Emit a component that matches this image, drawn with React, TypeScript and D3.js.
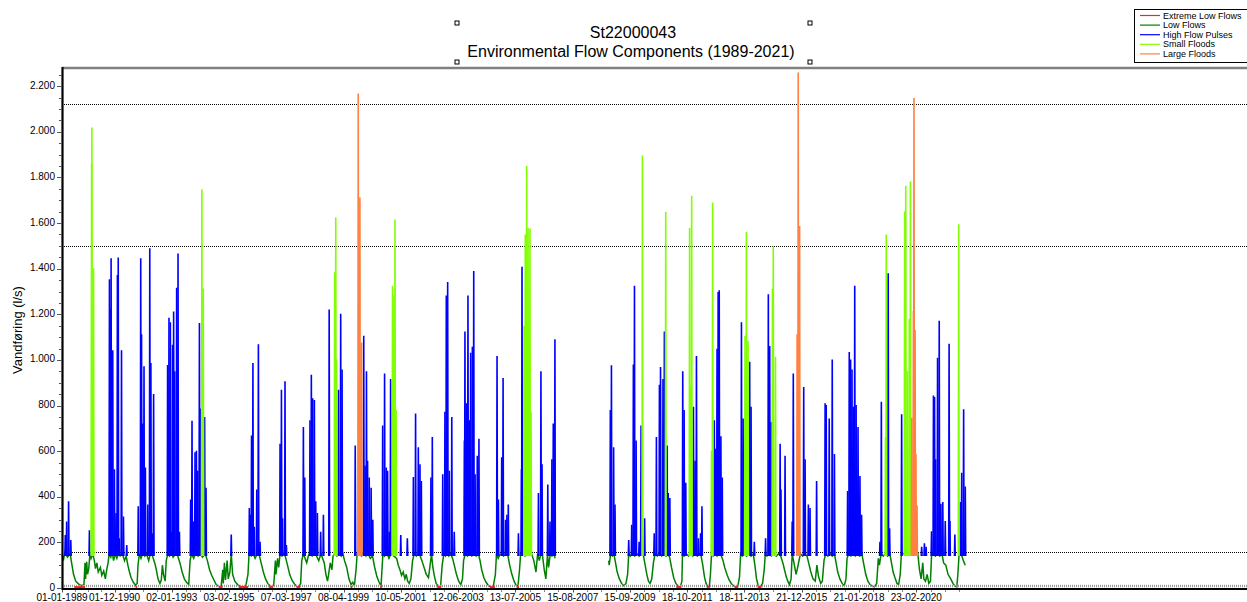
import { useEffect, useRef } from 'react'
import * as d3 from 'd3'

const W = 1247, H = 602
const M = { top: 68, right: 0, bottom: 14, left: 62 }
const FONT = '"Liberation Sans", Arial, Helvetica, sans-serif'

const title = 'St22000043'
const subtitle = 'Environmental Flow Components (1989-2021)'
const yLabel = 'Vandføring (l/s)'

const xTickLabels = [
  '01-01-1989', '01-12-1990', '02-01-1993', '03-02-1995', '07-03-1997', '08-04-1999',
  '10-05-2001', '12-06-2003', '13-07-2005', '15-08-2007', '15-09-2009', '18-10-2011',
  '18-11-2013', '21-12-2015', '21-01-2018', '23-02-2020',
]
const yTicks = [0, 200, 400, 600, 800, 1000, 1200, 1400, 1600, 1800, 2000, 2200]
const thresholds = [160, 1500, 2120] // l/s, dotted lines
const extremeLowLine = 10

const legendNames = ['Extreme Low Flows', 'Low Flows', 'High Flow Pulses', 'Small Floods', 'Large Floods']
const legendColors = ['#ff2020', '#008000', '#0000ff', '#80ff00', '#ff8040']

// [decimal year, l/s]  (null = no data)
const lowFlows: ([number, number] | null)[] = [
  [1989.00, 150], [1989.05, 120], [1989.10, 155], [1989.20, 135], [1989.30, 150], [1989.35, 110], [1989.42, 60],
  [1989.50, 30], [1989.60, 18], [1989.70, 10], [1989.80, 15], [1989.84, 110], [1989.86, 40], [1989.90, 115],
  [1989.93, 60], [1989.97, 80], [1990.02, 150], [1990.06, 130], [1990.12, 150], [1990.18, 120], [1990.22, 85],
  [1990.27, 110], [1990.32, 70], [1990.40, 90], [1990.45, 55], [1990.52, 75], [1990.58, 40], [1990.63, 80],
  [1990.68, 110], [1990.72, 150],
  [1990.78, 135], [1990.83, 155], [1990.88, 120], [1990.94, 150], [1991.00, 130], [1991.06, 155], [1991.12, 140],
  [1991.20, 150], [1991.28, 120], [1991.34, 140], [1991.40, 100], [1991.46, 70], [1991.52, 45], [1991.60, 25],
  [1991.68, 12], [1991.74, 20], [1991.77, 100],
  [1991.82, 150], [1991.88, 130], [1991.95, 155], [1992.02, 140], [1992.08, 150], [1992.16, 120], [1992.22, 150],
  [1992.30, 140], [1992.38, 110], [1992.44, 80], [1992.50, 40], [1992.57, 20], [1992.62, 35], [1992.66, 100],
  [1992.70, 60], [1992.76, 30], [1992.80, 120],
  [1992.86, 150], [1992.92, 140], [1992.98, 155], [1993.05, 135], [1993.14, 150], [1993.22, 140], [1993.30, 110],
  [1993.38, 70], [1993.46, 40], [1993.54, 25], [1993.62, 15], [1993.67, 120],
  [1993.72, 150], [1993.80, 130], [1993.88, 155], [1993.96, 140], [1994.05, 150], [1994.12, 135], [1994.22, 150],
  [1994.30, 120], [1994.38, 80], [1994.46, 55], [1994.54, 35], [1994.62, 15], [1994.70, 8], [1994.80, 5],
  [1994.86, 80], [1994.88, 20], [1994.92, 110], [1994.96, 35], [1995.02, 120], [1995.06, 40], [1995.12, 70],
  [1995.17, 150], [1995.22, 60], [1995.30, 30], [1995.40, 15], [1995.50, 8], [1995.60, 5], [1995.70, 8], [1995.78, 60],
  [1995.82, 150], [1995.90, 140], [1995.96, 155], [1996.04, 130], [1996.12, 150], [1996.20, 140], [1996.26, 110],
  [1996.34, 70], [1996.42, 40], [1996.50, 20], [1996.58, 10], [1996.66, 5], [1996.72, 15], [1996.78, 120],
  [1996.80, 60], [1996.86, 130], [1996.90, 90],
  [1996.95, 150], [1997.02, 140], [1997.10, 155], [1997.16, 130], [1997.22, 100], [1997.30, 60], [1997.38, 35],
  [1997.46, 20], [1997.55, 8], [1997.64, 5], [1997.70, 20], [1997.74, 120],
  [1997.80, 150], [1997.86, 130], [1997.92, 110], [1997.98, 140], [1998.04, 155], [1998.12, 140], [1998.20, 150],
  [1998.28, 140], [1998.36, 120], [1998.44, 150], [1998.50, 130], [1998.56, 110], [1998.62, 60], [1998.68, 30],
  [1998.72, 60], [1998.78, 110], [1998.84, 80], [1998.88, 140],
  [1998.94, 150], [1999.02, 140], [1999.10, 155], [1999.18, 140], [1999.24, 150], [1999.30, 120], [1999.38, 90],
  [1999.46, 40], [1999.54, 15], [1999.60, 25], [1999.66, 10], [1999.72, 80], [1999.76, 150],
  [1999.85, 150], [1999.92, 140], [2000.00, 155], [2000.08, 140], [2000.16, 150], [2000.24, 130], [2000.32, 140],
  [2000.40, 90], [2000.48, 50], [2000.56, 25], [2000.63, 8], [2000.66, 70], [2000.70, 150],
  [2000.76, 140], [2000.84, 155], [2000.92, 130], [2001.00, 150], [2001.10, 140], [2001.20, 130], [2001.26, 100],
  [2001.32, 80], [2001.38, 55], [2001.44, 70], [2001.50, 40], [2001.55, 60], [2001.60, 30], [2001.66, 20],
  [2001.72, 40], [2001.78, 120],
  [2001.84, 150], [2001.92, 140], [2002.00, 155], [2002.06, 140], [2002.12, 120], [2002.20, 90], [2002.28, 60],
  [2002.36, 45], [2002.42, 100], [2002.47, 150], [2002.52, 90], [2002.58, 50], [2002.64, 20], [2002.72, 8],
  [2002.80, 5], [2002.86, 100],
  [2002.92, 150], [2002.98, 140], [2003.04, 155], [2003.10, 140], [2003.16, 150], [2003.24, 130], [2003.30, 100],
  [2003.38, 60], [2003.46, 30], [2003.54, 15], [2003.60, 40], [2003.64, 120],
  [2003.70, 150], [2003.78, 140], [2003.86, 155], [2003.94, 140], [2004.02, 150], [2004.10, 140], [2004.18, 150],
  [2004.24, 120], [2004.30, 80], [2004.38, 45], [2004.46, 25], [2004.54, 12], [2004.62, 5], [2004.72, 5], [2004.80, 60],
  [2004.84, 150], [2004.90, 130], [2004.96, 145], [2005.04, 150], [2005.10, 140], [2005.18, 150], [2005.26, 140],
  [2005.32, 100], [2005.40, 60], [2005.48, 30], [2005.56, 12], [2005.62, 5], [2005.68, 80], [2005.72, 150],
  [2005.80, 150], [2005.88, 140], [2005.96, 155], [2006.04, 145], [2006.12, 150], [2006.20, 120], [2006.28, 70],
  [2006.34, 150], [2006.40, 120], [2006.46, 150], [2006.52, 140], [2006.58, 80], [2006.64, 40], [2006.70, 150],
  [2006.74, 90], [2006.80, 150], [2006.86, 140], [2006.92, 150], [2006.98, 130],
  null,
  [2008.93, 120], [2008.95, 100], [2009.00, 150], [2009.06, 140], [2009.12, 150], [2009.18, 110], [2009.24, 70],
  [2009.32, 40], [2009.40, 20], [2009.48, 10], [2009.56, 20], [2009.62, 60], [2009.66, 150],
  [2009.72, 140], [2009.80, 155], [2009.88, 140], [2009.96, 150], [2010.04, 140], [2010.12, 150], [2010.20, 140],
  [2010.26, 100], [2010.32, 60], [2010.38, 30], [2010.44, 20], [2010.50, 40], [2010.56, 110],
  [2010.62, 150], [2010.70, 140], [2010.78, 155], [2010.86, 140], [2010.94, 150], [2011.02, 140], [2011.10, 150],
  [2011.16, 130], [2011.22, 90], [2011.30, 45], [2011.38, 20], [2011.46, 8], [2011.54, 5], [2011.60, 30], [2011.62, 150],
  [2011.68, 140], [2011.76, 150], [2011.84, 140], [2011.92, 155], [2012.00, 140], [2012.08, 150], [2012.16, 140],
  [2012.24, 150], [2012.30, 140], [2012.36, 100], [2012.42, 50], [2012.48, 20], [2012.54, 5], [2012.60, 8],
  [2012.64, 60], [2012.68, 150],
  [2012.74, 140], [2012.80, 150], [2012.88, 140], [2012.96, 155], [2013.04, 140], [2013.10, 120], [2013.16, 90],
  [2013.24, 60], [2013.32, 35], [2013.40, 20], [2013.48, 10], [2013.56, 5], [2013.64, 8], [2013.70, 50], [2013.74, 150],
  [2013.80, 140], [2013.88, 150], [2013.96, 140], [2014.04, 150], [2014.12, 140], [2014.20, 150], [2014.26, 100],
  [2014.32, 40], [2014.38, 10], [2014.46, 5], [2014.54, 20], [2014.60, 80], [2014.64, 150],
  [2014.70, 140], [2014.78, 150], [2014.86, 140], [2014.96, 150], [2015.04, 140], [2015.12, 150], [2015.20, 140],
  [2015.28, 110], [2015.34, 80], [2015.40, 50], [2015.46, 30], [2015.52, 15], [2015.58, 40], [2015.62, 150],
  [2015.70, 100], [2015.76, 60], [2015.80, 80],
  [2015.92, 150], [2016.00, 140], [2016.08, 150], [2016.16, 140], [2016.22, 110], [2016.30, 70], [2016.38, 40],
  [2016.46, 30], [2016.52, 100], [2016.58, 50], [2016.66, 20], [2016.72, 30], [2016.78, 120],
  [2016.84, 150], [2016.92, 140], [2017.00, 150], [2017.08, 140], [2017.16, 150], [2017.22, 110], [2017.28, 70],
  [2017.36, 40], [2017.44, 20], [2017.52, 10], [2017.58, 40], [2017.62, 130],
  [2017.68, 150], [2017.76, 140], [2017.84, 155], [2017.92, 140], [2018.00, 150], [2018.08, 140], [2018.16, 150],
  [2018.22, 110], [2018.30, 60], [2018.38, 30], [2018.46, 15], [2018.54, 8], [2018.62, 5], [2018.70, 20],
  [2018.76, 130], [2018.80, 100],
  [2018.86, 150], [2018.94, 140], [2019.02, 150], [2019.10, 140], [2019.18, 150], [2019.24, 110], [2019.30, 70],
  [2019.38, 40], [2019.44, 20], [2019.50, 15], [2019.56, 60], [2019.60, 150],
  [2019.66, 150], [2020.20, 150], [2020.26, 80], [2020.32, 40], [2020.38, 110], [2020.42, 40], [2020.48, 30],
  [2020.54, 60], [2020.60, 20], [2020.66, 30], [2020.70, 140],
  [2020.76, 150], [2020.84, 140], [2020.92, 150], [2021.00, 140], [2021.08, 150], [2021.14, 110], [2021.22, 100],
  [2021.30, 60], [2021.40, 40], [2021.48, 20], [2021.56, 8], [2021.62, 5], [2021.66, 60], [2021.70, 140],
  [2021.78, 150], [2021.86, 120], [2021.93, 100],
]

// [start year, end year, l/s]
const extremeLowFlows: [number, number, number][] = [
  [1989.45, 1989.84, 4], [1991.68, 1991.74, 4], [1994.72, 1994.85, 4], [1995.45, 1995.78, 4],
  [1996.55, 1996.70, 4], [1997.55, 1997.68, 4], [1999.52, 1999.58, 4], [2000.60, 2000.65, 4],
  [2002.68, 2002.82, 4], [2004.60, 2004.78, 4], [2005.58, 2005.66, 4], [2011.40, 2011.58, 4],
  [2012.52, 2012.62, 4], [2013.52, 2013.64, 4], [2014.36, 2014.50, 4],
]

// peaks: [decimal year, l/s]
const highFlowPulses: [number, number][] = [
  [1989.12, 232], [1989.17, 292], [1989.24, 380], [1989.32, 210], [1990.00, 253],
  [1990.73, 1354], [1990.75, 1224], [1990.79, 1446], [1990.85, 1042], [1990.91, 521], [1990.97, 329],
  [1991.02, 1372], [1991.05, 1449], [1991.09, 218], [1991.17, 1042], [1991.24, 314], [1991.36, 188],
  [1991.78, 358], [1991.87, 1446], [1991.90, 1113], [1991.94, 721], [1991.99, 972], [1992.04, 528],
  [1992.13, 366], [1992.20, 1490], [1992.24, 987], [1992.29, 240], [1992.34, 851],
  [1992.85, 978], [1992.90, 1185], [1992.95, 1165], [1993.00, 247], [1993.03, 1067], [1993.07, 1212],
  [1993.11, 950], [1993.18, 1317], [1993.23, 1467], [1993.28, 247],
  [1993.69, 388], [1993.74, 733], [1993.79, 292], [1993.85, 595], [1993.90, 602], [1993.95, 514],
  [1994.01, 1162], [1994.04, 787], [1994.20, 750], [1994.25, 440],
  [1995.17, 235],
  [1995.83, 351], [1995.88, 321], [1995.91, 669], [1995.96, 987], [1996.01, 269], [1996.10, 432],
  [1996.16, 1069], [1996.22, 203],
  [1996.95, 632], [1997.00, 869], [1997.04, 306], [1997.13, 906], [1997.18, 188],
  [1997.80, 706], [1997.85, 484], [1998.04, 736], [1998.09, 935], [1998.14, 832], [1998.20, 824],
  [1998.25, 380], [1998.31, 329], [1998.43, 247], [1998.53, 321], [1998.74, 1221],
  [1999.08, 869], [1999.16, 1202], [1999.21, 958], [1999.69, 625],
  [2000.00, 1106], [2000.05, 536], [2000.10, 950], [2000.14, 558], [2000.20, 484], [2000.27, 440], [2000.33, 299],
  [2000.69, 713], [2000.76, 940], [2000.82, 528], [2000.87, 514], [2000.93, 247], [2000.98, 916],
  [2001.35, 232], [2001.59, 218],
  [2001.81, 487], [2001.89, 765], [2001.99, 617], [2002.05, 543], [2002.10, 469], [2002.45, 484], [2002.50, 662],
  [2002.88, 499], [2002.96, 773], [2003.01, 1283], [2003.06, 1342], [2003.12, 514], [2003.21, 750], [2003.30, 247],
  [2003.67, 647], [2003.69, 1125], [2003.74, 810], [2003.80, 1283], [2003.85, 736], [2003.90, 1032],
  [2003.96, 1058], [2004.01, 1390], [2004.06, 499], [2004.14, 580], [2004.20, 654],
  [2004.86, 1017], [2004.91, 388], [2005.03, 573], [2005.08, 921], [2005.17, 299], [2005.22, 321], [2005.27, 366],
  [2005.64, 240], [2005.75, 521], [2005.77, 1409], [2006.37, 417], [2006.46, 950], [2006.50, 543],
  [2006.71, 454], [2006.79, 292], [2006.86, 565], [2006.91, 721], [2006.97, 1091],
  [2008.99, 780], [2009.03, 977], [2009.11, 617], [2009.16, 366],
  [2009.66, 210], [2009.77, 277], [2009.83, 980], [2009.87, 1325], [2009.93, 647], [2010.04, 203],
  [2010.11, 713], [2010.24, 306],
  [2010.59, 240], [2010.67, 662], [2010.78, 891], [2010.82, 969], [2010.91, 916], [2010.96, 1125],
  [2011.06, 625], [2011.10, 417], [2011.16, 395],
  [2011.63, 950], [2011.68, 780], [2011.74, 462], [2012.02, 795], [2012.08, 558], [2012.13, 1017],
  [2012.20, 218], [2012.28, 240], [2012.33, 358],
  [2012.78, 736], [2012.83, 610], [2012.88, 1049], [2012.92, 1298], [2012.96, 1305], [2013.02, 665], [2013.07, 484],
  [2013.77, 1165], [2013.83, 743], [2014.07, 992], [2014.12, 795], [2014.24, 203],
  [2014.65, 218], [2014.75, 1288], [2014.80, 1061], [2014.85, 728], [2015.18, 632], [2015.21, 432], [2015.36, 580],
  [2015.62, 292], [2015.66, 940], [2016.04, 881], [2016.09, 565], [2016.21, 366], [2016.27, 351], [2016.51, 469],
  [2016.82, 810], [2016.86, 802], [2016.97, 743], [2017.08, 1002], [2017.16, 588],
  [2017.64, 425], [2017.70, 1035], [2017.75, 1002], [2017.80, 958], [2017.85, 795], [2017.90, 1325],
  [2017.95, 802], [2018.02, 706], [2018.09, 491], [2018.15, 321],
  [2018.82, 203], [2018.87, 817], [2019.12, 1380], [2019.17, 262], [2019.61, 762],
  [2020.34, 181], [2020.44, 196], [2020.50, 181], [2020.70, 249], [2020.77, 844], [2020.81, 837],
  [2020.85, 565], [2020.92, 1010], [2020.98, 1172], [2021.04, 369], [2021.11, 377], [2021.20, 294],
  [2021.34, 1071], [2021.37, 294], [2021.55, 234], [2021.75, 377], [2021.80, 505], [2021.87, 784], [2021.93, 445],
]

const smallFloods: [number, number][] = [
  [1990.08, 1860], [1990.09, 2019], [1990.15, 1402],
  [1994.10, 1748], [1994.15, 1313],
  [1998.94, 1384], [1998.98, 1624], [1999.01, 1002],
  [2001.05, 1325], [2001.10, 1283], [2001.14, 1616], [2001.18, 780],
  [2005.85, 1150], [2005.89, 1550], [2005.94, 1850], [2005.99, 1579], [2006.06, 1576], [2006.10, 773],
  [2010.16, 1896],
  [2011.01, 1650],
  [2011.88, 1579], [2011.92, 884], [2011.955, 1720],
  [2012.68, 602], [2012.72, 1690],
  [2013.90, 1106], [2013.95, 1561], [2014.01, 1083],
  [2014.90, 1313], [2014.93, 1498], [2015.01, 1014],
  [2019.02, 662], [2019.05, 1550],
  [2019.72, 1651], [2019.76, 1764], [2019.82, 950], [2019.89, 1181], [2019.93, 1782],
  [2021.69, 1595],
]

const largeFloods: [number, number][] = [
  [1999.80, 2168], [1999.86, 1712], [1999.92, 1076],
  [2015.80, 1113], [2015.84, 2260], [2015.89, 1587],
  [2019.98, 746], [2020.04, 1214], [2020.06, 2149], [2020.10, 1131], [2020.13, 588], [2020.17, 362],
]

const toYear = (s: string) => {
  const [d, m, yy] = s.split('-').map(Number)
  const a = Date.UTC(yy, 0, 1), b = Date.UTC(yy + 1, 0, 1)
  return yy + (Date.UTC(yy, m - 1, d) - a) / (b - a)
}

export default function App() {
  const svgRef = useRef<SVGSVGElement>(null)

  useEffect(() => {
    const svg = d3.select(svgRef.current!)
    svg.selectAll('*').remove()

    const plotBottom = 588
    const x = d3.scaleLinear().domain([1989, 2022]).range([M.left, 967.2])
    const y = d3.scaleLinear().domain([0, 2280]).range([plotBottom, M.top])
    const fmt = d3.formatLocale({ decimal: ',', thousands: '.', grouping: [3], currency: ['', ''] }).format(',d')

    // Title + selection handles
    svg.append('text').attr('x', 633).attr('y', 38).attr('text-anchor', 'middle')
      .attr('font-family', FONT).attr('font-size', 16).text(title)
    svg.append('text').attr('x', 631).attr('y', 57).attr('text-anchor', 'middle')
      .attr('font-family', FONT).attr('font-size', 16).text(subtitle)
    ;[[457, 23], [810, 23], [457, 62], [810, 62]].forEach(([hx, hy]) => {
      svg.append('rect').attr('x', hx - 2).attr('y', hy - 2).attr('width', 4).attr('height', 4)
        .attr('fill', '#fff').attr('stroke', '#000').attr('stroke-width', 1)
    })

    // Threshold lines (dotted)
    thresholds.forEach(t => {
      svg.append('line').attr('x1', M.left).attr('x2', W).attr('y1', Math.round(y(t)) + 0.5).attr('y2', Math.round(y(t)) + 0.5)
        .attr('stroke', '#000').attr('stroke-width', 1).attr('stroke-dasharray', '1 1')
    })

    // Low flows (green baseline)
    const line = d3.line<[number, number] | null>()
      .defined(d => d !== null)
      .x(d => x(d![0]))
      .y(d => y(d![1]))
    svg.append('path').datum(lowFlows)
      .attr('fill', 'none').attr('stroke', '#008000').attr('stroke-width', 1.5)
      .attr('d', line)

    // Pulses / floods as narrow spikes from the high-flow threshold
    const spike = d3.line<[number, number]>().x(d => x(d[0])).y(d => y(d[1]))
    const half = 0.015
    const drawSpikes = (data: [number, number][], color: string) => {
      const grp = svg.append('g')
      data.forEach(([t, v]) => {
        grp.append('path')
          .attr('d', spike([[t - half, thresholds[0] - 20], [t, v], [t + half, thresholds[0] - 20]]))
          .attr('fill', 'none').attr('stroke', color).attr('stroke-width', 1.6)
      })
    }
    drawSpikes(highFlowPulses, legendColors[2])
    drawSpikes(smallFloods, legendColors[3])
    drawSpikes(largeFloods, legendColors[4])

    // Extreme-low threshold band
    svg.append('line').attr('x1', M.left).attr('x2', W).attr('y1', 586).attr('y2', 586)
      .attr('stroke', '#9a9a9a').attr('stroke-width', 2.5).attr('stroke-dasharray', '1 1')
      .attr('data-v', extremeLowLine)

    // Extreme low flows
    extremeLowFlows.forEach(([a, b, v]) => {
      svg.append('line').attr('x1', x(a)).attr('x2', x(b)).attr('y1', y(v)).attr('y2', y(v))
        .attr('stroke', legendColors[0]).attr('stroke-width', 2)
    })

    // Frame
    svg.append('line').attr('x1', M.left).attr('x2', W).attr('y1', M.top).attr('y2', M.top)
      .attr('stroke', '#808080').attr('stroke-width', 2.5)
    svg.append('line').attr('x1', M.left + 0.5).attr('x2', M.left + 0.5).attr('y1', M.top - 1).attr('y2', 590)
      .attr('stroke', '#000').attr('stroke-width', 2.2)
    svg.append('line').attr('x1', M.left).attr('x2', W).attr('y1', plotBottom + 1).attr('y2', plotBottom + 1)
      .attr('stroke', '#000').attr('stroke-width', 2.2)

    // Y axis ticks + labels
    d3.range(0, 2251, 50).forEach(v => {
      const major = v % 200 === 0
      svg.append('line').attr('x1', M.left - (major ? 5 : 3)).attr('x2', M.left)
        .attr('y1', Math.round(y(v)) + 0.5).attr('y2', Math.round(y(v)) + 0.5)
        .attr('stroke', '#555').attr('stroke-width', 1)
    })
    yTicks.forEach(v => {
      svg.append('text').attr('x', 55).attr('y', y(v) - 1).attr('dy', '0.35em').attr('text-anchor', 'end')
        .attr('font-family', FONT).attr('font-size', 10).attr('fill', '#000').text(fmt(v))
    })
    svg.append('text').attr('transform', `translate(22,330) rotate(-90)`).attr('text-anchor', 'middle')
      .attr('font-family', FONT).attr('font-size', 13).text(yLabel)

    // X axis ticks + labels
    const majors = xTickLabels.map(toYear)
    const minors: number[] = []
    for (let i = 0; i < majors.length - 1; i++) {
      const q = (majors[i + 1] - majors[i]) / 4
      for (let k = 1; k < 4; k++) minors.push(majors[i] + k * q)
    }
    const lastQ = (majors[majors.length - 1] - majors[majors.length - 2]) / 4
    for (let t = majors[majors.length - 1] + lastQ; t <= 2022; t += lastQ) minors.push(t)
    minors.forEach(t => {
      svg.append('line').attr('x1', Math.round(x(t)) + 0.5).attr('x2', Math.round(x(t)) + 0.5)
        .attr('y1', 590).attr('y2', 592).attr('stroke', '#888').attr('stroke-width', 1)
    })
    majors.forEach((t, i) => {
      svg.append('line').attr('x1', Math.round(x(t)) + 0.5).attr('x2', Math.round(x(t)) + 0.5)
        .attr('y1', 590).attr('y2', 592.5).attr('stroke', '#555').attr('stroke-width', 1)
      svg.append('text').attr('x', x(t)).attr('y', 600.5).attr('text-anchor', 'middle')
        .attr('font-family', FONT).attr('font-size', 10).attr('fill', '#000').text(xTickLabels[i])
    })

    // Legend
    const lg = svg.append('g')
    lg.append('rect').attr('x', 1134.5).attr('y', 9.5).attr('width', 120).attr('height', 53)
      .attr('fill', '#fff').attr('stroke', '#000').attr('stroke-width', 1)
    legendNames.forEach((name, i) => {
      const ly = 15.5 + i * 9.6
      lg.append('line').attr('x1', 1140).attr('x2', 1160).attr('y1', ly).attr('y2', ly)
        .attr('stroke', legendColors[i]).attr('stroke-width', 1.2)
      lg.append('text').attr('x', 1163).attr('y', ly).attr('dy', '0.35em')
        .attr('font-family', FONT).attr('font-size', 9).attr('fill', '#000').text(name)
    })
  }, [])

  return (
    <svg ref={svgRef} width={W} height={H}
      style={{ position: 'absolute', left: 0, top: 0, display: 'block', background: '#fff' }} />
  )
}
